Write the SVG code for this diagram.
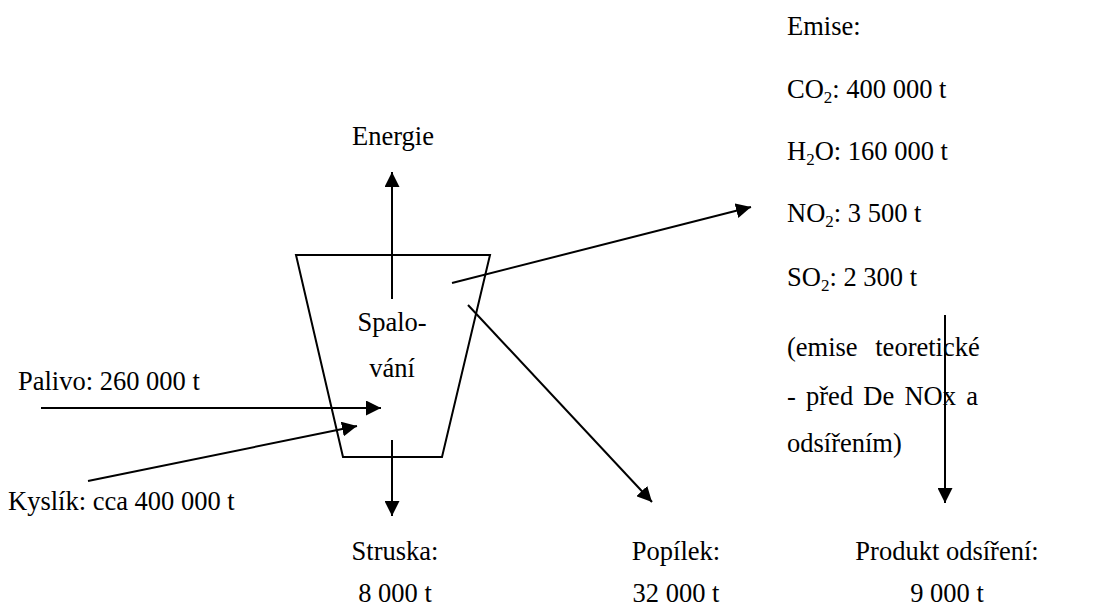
<svg xmlns="http://www.w3.org/2000/svg" width="1106" height="608" viewBox="0 0 1106 608">
<style>
text{font-family:"Liberation Serif","Times New Roman",serif;font-size:26.5px;fill:#000}
.sub{font-size:17px}
.ln{stroke:#000;stroke-width:2;fill:none}
</style>
<defs>
<marker id="ah" viewBox="0 0 10 10" refX="10" refY="5" markerWidth="7.5" markerHeight="7.5" markerUnits="strokeWidth" orient="auto">
<path d="M0,0 L10,5 L0,10 Z" fill="#000"/>
</marker>
</defs>
<rect width="1106" height="608" fill="#fff"/>
<g id="spalovani">
<polygon class="ln" points="296,255 490,255 442,457 343,457"/>
<text x="392" y="331" text-anchor="middle">Spalo-</text>
<text x="392" y="377" text-anchor="middle">vání</text>
</g>
<g id="connectors">
<line class="ln" x1="392" y1="299" x2="392" y2="172" marker-end="url(#ah)"/>
<line class="ln" x1="392" y1="440" x2="392" y2="516" marker-end="url(#ah)"/>
<line class="ln" x1="468" y1="305" x2="652" y2="502" marker-end="url(#ah)"/>
<line class="ln" x1="452" y1="283" x2="751" y2="207" marker-end="url(#ah)"/>
<line class="ln" x1="41" y1="408" x2="381" y2="408" marker-end="url(#ah)"/>
<line class="ln" x1="88" y1="481" x2="357" y2="426" marker-end="url(#ah)"/>
<line class="ln" x1="945" y1="315" x2="945" y2="503" marker-end="url(#ah)"/>
</g>
<g id="energie"><text x="393" y="145" text-anchor="middle">Energie</text></g>
<g id="palivo"><text x="18" y="390">Palivo: 260 000 t</text></g>
<g id="kyslik"><text x="8" y="510">Kyslík: cca 400 000 t</text></g>
<g id="emise">
<text x="787" y="35">Emise:</text>
<text x="787" y="98">CO<tspan class="sub" dy="5">2</tspan><tspan dy="-5">: 400 000 t</tspan></text>
<text x="787" y="160">H<tspan class="sub" dy="5">2</tspan><tspan dy="-5">O: 160 000 t</tspan></text>
<text x="787" y="222">NO<tspan class="sub" dy="5">2</tspan><tspan dy="-5">: 3 500 t</tspan></text>
<text x="787" y="286">SO<tspan class="sub" dy="5">2</tspan><tspan dy="-5">: 2 300 t</tspan></text>
<text x="787" y="356" word-spacing="11">(emise teoretické</text>
<text x="787" y="405" word-spacing="3.6">- před De NOx a</text>
<text x="787" y="452">odsířením)</text>
</g>
<g id="struska">
<text x="395" y="560" text-anchor="middle">Struska:</text>
<text x="395" y="602" text-anchor="middle">8 000 t</text>
</g>
<g id="popilek">
<text x="676" y="560" text-anchor="middle">Popílek:</text>
<text x="676" y="602" text-anchor="middle">32 000 t</text>
</g>
<g id="produkt">
<text x="947" y="560" text-anchor="middle">Produkt odsíření:</text>
<text x="947" y="602" text-anchor="middle">9 000 t</text>
</g>
</svg>
